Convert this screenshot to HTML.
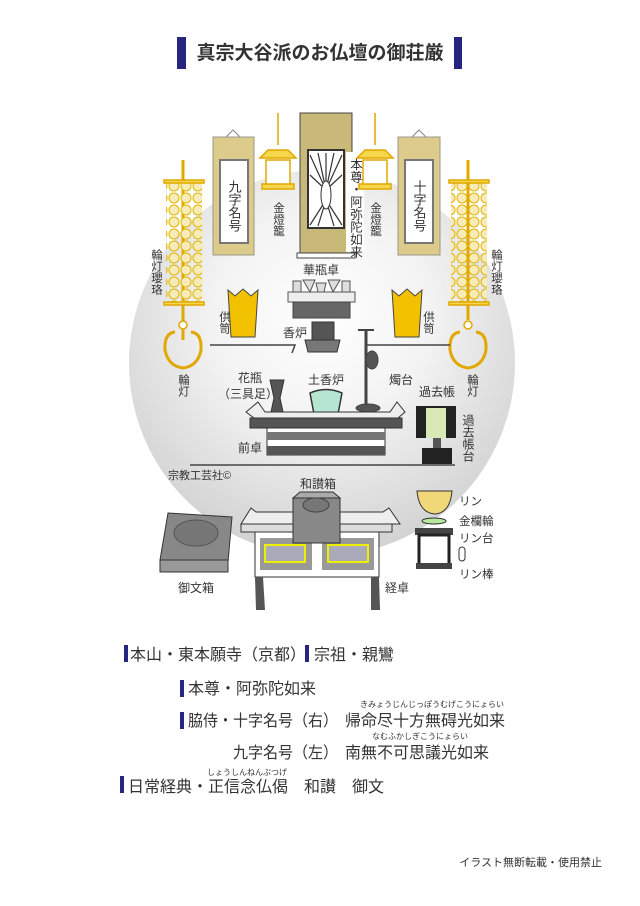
<!DOCTYPE html>
<html><head><meta charset="utf-8"><style>
body{margin:0;background:#fff}
svg{display:block}
text{font-family:"Liberation Sans","Noto Sans CJK JP",sans-serif;fill:#333}
.v{writing-mode:tb;glyph-orientation-vertical:0}
</style></head><body>
<svg width="640" height="906" viewBox="0 0 640 906" xmlns="http://www.w3.org/2000/svg">
<defs>
<radialGradient id="g" cx="0.5" cy="0.38" r="0.62">
<stop offset="0" stop-color="#fff"/><stop offset="0.45" stop-color="#f3f3f3"/><stop offset="1" stop-color="#d2d2d2"/>
</radialGradient>
<pattern id="yk" width="12" height="12" patternUnits="userSpaceOnUse">
<circle cx="6" cy="6" r="5" fill="#f7ecb8" stroke="#e2b400" stroke-width="1"/>
</pattern>
</defs>
<rect width="640" height="906" fill="#fff"/>
<circle cx="322" cy="363" r="193" fill="url(#g)"/>
<!-- title -->
<rect x="177" y="37" width="9" height="32" fill="#262680"/>
<rect x="454" y="37" width="8" height="32" fill="#262680"/>
<text x="320" y="59" font-size="19" text-anchor="middle" font-weight="bold" fill="#333">真宗大谷派のお仏壇の御荘厳</text>

<!-- center scroll -->
<rect x="300" y="113" width="52" height="140" fill="#c9b978" stroke="#444"/>
<rect x="297" y="253" width="58" height="5" fill="#fff" stroke="#444"/>
<rect x="308" y="150" width="36" height="78" fill="#fff" stroke="#333" stroke-width="2"/>
<g stroke="#333" stroke-width="1.2">
<line x1="326" y1="190" x2="310" y2="155"/><line x1="326" y1="190" x2="318" y2="153"/><line x1="326" y1="190" x2="326" y2="153"/><line x1="326" y1="190" x2="334" y2="153"/><line x1="326" y1="190" x2="342" y2="155"/>
<line x1="326" y1="190" x2="310" y2="175"/><line x1="326" y1="190" x2="342" y2="175"/><line x1="326" y1="200" x2="310" y2="225"/><line x1="326" y1="200" x2="342" y2="225"/><line x1="326" y1="200" x2="318" y2="226"/><line x1="326" y1="200" x2="334" y2="226"/>
</g>
<ellipse cx="326" cy="195" rx="5" ry="14" fill="#fff" stroke="#333"/>
<rect x="346" y="152" width="18" height="100" fill="#fff"/>
<text x="355" y="158" font-size="12.5" class="v">本尊・阿弥陀如来</text>

<!-- side scrolls -->
<g>
<path d="M226 137 L233 130 L240 137" fill="none" stroke="#888"/>
<rect x="213" y="137" width="41" height="118" fill="#dccb8a" stroke="#998"/>
<rect x="220" y="160" width="28" height="83" fill="#fff" stroke="#777" stroke-width="2"/>
<text x="234" y="180" font-size="13" class="v">九字名号</text>
<path d="M412 137 L419 130 L426 137" fill="none" stroke="#888"/>
<rect x="398" y="137" width="42" height="118" fill="#dccb8a" stroke="#998"/>
<rect x="405" y="160" width="28" height="83" fill="#fff" stroke="#777" stroke-width="2"/>
<text x="419" y="180" font-size="13" class="v">十字名号</text>
</g>

<!-- lanterns -->
<g fill="#f6d64a" stroke="#e0a800" stroke-width="1.5">
<line x1="278" y1="113" x2="278" y2="145"/>
<path d="M260 158 L296 158 L288 150 L268 150 Z"/><rect x="266" y="160" width="24" height="25" fill="#fff"/><rect x="262" y="184" width="32" height="5"/>
<line x1="375" y1="113" x2="375" y2="145"/>
<path d="M357 158 L393 158 L385 150 L365 150 Z"/><rect x="363" y="160" width="24" height="25" fill="#fff"/><rect x="359" y="184" width="32" height="5"/>
</g>
<text x="278" y="202" font-size="11.5" class="v">金燈籠</text>
<text x="375" y="202" font-size="11.5" class="v">金燈籠</text>

<!-- yoraku -->
<g stroke="#e0a800" stroke-width="1.5">
<line x1="183" y1="160" x2="183" y2="340" stroke-width="3"/>
<rect x="166" y="182" width="36" height="120" fill="url(#yk)" stroke="none"/>
<rect x="164" y="180" width="40" height="3" fill="#f6d64a"/>
<rect x="164" y="302" width="40" height="3" fill="#f6d64a"/>
<circle cx="183" cy="325" r="4" fill="#fff"/>
<path d="M175 332 Q164 333 165 350 Q168 366 183 368 Q198 366 201 350 Q202 333 191 332" fill="none" stroke-width="3"/>
<line x1="468" y1="160" x2="468" y2="320" stroke-width="3"/>
<rect x="451" y="182" width="36" height="120" fill="url(#yk)" stroke="none"/>
<rect x="449" y="180" width="40" height="3" fill="#f6d64a"/>
<rect x="449" y="302" width="40" height="3" fill="#f6d64a"/>
<circle cx="468" cy="325" r="4" fill="#fff"/>
<path d="M460 332 Q449 333 450 350 Q453 366 468 368 Q483 366 486 350 Q487 333 476 332" fill="none" stroke-width="3"/>
</g>
<text x="156" y="249" font-size="11.5" class="v">輪灯瓔珞</text>
<text x="496" y="249" font-size="11.5" class="v">輪灯瓔珞</text>
<text x="183" y="374" font-size="11.5" class="v">輪灯</text>
<text x="472" y="374" font-size="11.5" class="v">輪灯</text>

<!-- kebyo table -->
<text x="321" y="274" font-size="12" text-anchor="middle">華瓶卓</text>
<rect x="288" y="292" width="67" height="10" fill="#eee" stroke="#555"/>
<rect x="293" y="302" width="57" height="16" fill="#666" stroke="#444"/>
<g fill="#ddd" stroke="#555"><rect x="293" y="281" width="8" height="11"/><rect x="342" y="281" width="8" height="11"/><path d="M303 280 L315 280 L310 292 Z"/><path d="M328 280 L340 280 L333 292 Z"/><path d="M316 283 L326 283 L324 292 L318 292 Z"/></g>
<!-- kugu -->
<g fill="#f2c200" stroke="#444">
<path d="M228 290 L235 296 L243 289 L251 296 L258 290 L255 337 L231 337 Z"/>
<path d="M392 290 L399 296 L407 289 L415 296 L422 290 L419 337 L395 337 Z"/>
</g>
<text x="224" y="311" font-size="11.5" class="v">供笥</text>
<text x="428" y="311" font-size="11.5" class="v">供笥</text>
<!-- koro -->
<rect x="312" y="322" width="22" height="18" fill="#555" stroke="#333"/>
<path d="M305 340 L340 340 L337 352 L308 352 Z" fill="#777" stroke="#333"/>
<text x="295" y="337" font-size="12" text-anchor="middle">香炉</text>
<polyline points="210,345 295,345 292,353" fill="none" stroke="#444" stroke-width="1.5"/>
<line x1="365" y1="345" x2="450" y2="345" stroke="#444" stroke-width="1.5"/>

<!-- candle crane -->
<g stroke="#444" fill="#555"><line x1="366" y1="330" x2="366" y2="405" stroke-width="3"/><path d="M358 330 L374 330" stroke-width="2"/><ellipse cx="372" cy="360" rx="6" ry="9"/><ellipse cx="368" cy="408" rx="12" ry="4"/></g>
<text x="250" y="382" font-size="12" text-anchor="middle">花瓶</text>
<text x="248" y="398" font-size="12" text-anchor="middle">（三具足）</text>
<text x="326" y="384" font-size="12" text-anchor="middle">土香炉</text>
<text x="401" y="384" font-size="12" text-anchor="middle">燭台</text>
<text x="437" y="396" font-size="12" text-anchor="middle">過去帳</text>
<path d="M270 380 L284 380 L280 398 L283 412 L271 412 L274 398 Z" fill="#555" stroke="#333"/>
<path d="M310 393 Q326 386 342 393 L338 414 L314 414 Z" fill="#b6e6d2" stroke="#333" stroke-width="1.5"/>

<!-- front table -->
<path d="M246 412 L258 402 L265 412 L390 412 L397 402 L405 412 L398 418 L254 418 Z" fill="#eee" stroke="#333"/>
<rect x="250" y="418" width="152" height="10" fill="#555" stroke="#333"/>
<rect x="267" y="428" width="118" height="27" fill="#fff" stroke="#333"/>
<rect x="267" y="432" width="118" height="8" fill="#777"/>
<rect x="267" y="446" width="118" height="9" fill="#555"/>
<text x="250" y="452" font-size="12" text-anchor="middle">前卓</text>
<!-- kakocho -->
<rect x="416" y="406" width="40" height="32" fill="#222"/>
<rect x="426" y="408" width="20" height="30" fill="#d9e8b4"/>
<rect x="422" y="448" width="30" height="16" fill="#222"/>
<rect x="433" y="438" width="8" height="10" fill="#555"/>
<text x="468" y="414" font-size="12" class="v">過去帳台</text>
<line x1="190" y1="465" x2="455" y2="465" stroke="#444" stroke-width="1.5"/>
<text x="168" y="479" font-size="11">宗教工芸社©</text>

<!-- wasan box & kyo table -->
<text x="318" y="488" font-size="12" text-anchor="middle">和讃箱</text>
<path d="M241 524 L251 508 L256 512 L383 512 L389 508 L400 524 Z" fill="#eee" stroke="#333"/>
<rect x="241" y="524" width="151" height="8" fill="#ddd" stroke="#333"/>
<rect x="255" y="532" width="124" height="45" fill="#fff" stroke="#333"/>
<rect x="260" y="538" width="52" height="32" fill="#999"/>
<rect x="322" y="538" width="52" height="32" fill="#999"/>
<rect x="265" y="545" width="40" height="17" fill="#aab" stroke="#ee0" stroke-width="2"/>
<rect x="328" y="545" width="40" height="17" fill="#aab" stroke="#ee0" stroke-width="2"/>
<path d="M255 577 L263 577 L265 610 L256 610 Z" fill="#555"/>
<path d="M371 577 L379 577 L380 610 L371 610 Z" fill="#555"/>
<rect x="293" y="498" width="47" height="45" fill="#888" stroke="#333"/>
<path d="M293 498 L300 492 L333 492 L340 498 Z" fill="#aaa" stroke="#333"/>
<ellipse cx="316" cy="505" rx="13" ry="7" fill="#777" stroke="#444"/>
<!-- ofumi box -->
<path d="M168 513 L232 517 L228 562 L160 560 Z" fill="#888" stroke="#333"/>
<rect x="160" y="560" width="68" height="12" fill="#999" stroke="#333"/>
<ellipse cx="196" cy="533" rx="22" ry="13" fill="#777" stroke="#555"/>
<text x="196" y="592" font-size="12" text-anchor="middle">御文箱</text>
<text x="397" y="592" font-size="12" text-anchor="middle">経卓</text>
<!-- rin -->
<path d="M417 491 L452 491 Q450 513 435 514 Q419 513 417 491 Z" fill="#f0d878" stroke="#333"/>
<ellipse cx="434" cy="521" rx="12" ry="3" fill="#b8e8a0" stroke="#333"/>
<rect x="415" y="528" width="38" height="7" fill="#444"/>
<rect x="419" y="535" width="30" height="30" fill="#fff" stroke="#222" stroke-width="3"/>
<rect x="416" y="563" width="36" height="6" fill="#444"/>
<rect x="459" y="547" width="6" height="14" fill="#fff" stroke="#333" rx="3"/>
<text x="459" y="505" font-size="11.5">リン</text>
<text x="459" y="525" font-size="11.5">金欄輪</text>
<text x="459" y="542" font-size="11.5">リン台</text>
<text x="459" y="578" font-size="11.5">リン棒</text>

<!-- bottom text -->
<g font-size="16">
<rect x="124" y="645" width="4" height="17" fill="#262680"/>
<text x="130" y="660" font-size="16">本山・東本願寺（京都）</text>
<rect x="305" y="645" width="4" height="17" fill="#262680"/>
<text x="314" y="660" font-size="16">宗祖・親鸞</text>
<rect x="180" y="680" width="4" height="17" fill="#262680"/>
<text x="188" y="694" font-size="16">本尊・阿弥陀如来</text>
<rect x="180" y="712" width="4" height="17" fill="#262680"/>
<text x="188" y="726" font-size="16" textLength="150" lengthAdjust="spacingAndGlyphs">脇侍・十字名号（右）</text>
<text x="345" y="726" font-size="16">帰命尽十方無碍光如来</text>
<text x="360" y="707" font-size="8" fill="#666">きみょうじんじっぽうむげこうにょらい</text>
<text x="233" y="758" font-size="16" textLength="105" lengthAdjust="spacingAndGlyphs">九字名号（左）</text>
<text x="345" y="758" font-size="16">南無不可思議光如来</text>
<text x="372" y="739" font-size="8" fill="#666">なむふかしぎこうにょらい</text>
<rect x="120" y="776" width="4" height="17" fill="#262680"/>
<text x="128" y="792" font-size="16">日常経典・正信念仏偈　和讃　御文</text>
<text x="207" y="775" font-size="8" fill="#666">しょうしんねんぶつげ</text>
</g>
<text x="602" y="866" font-size="11" text-anchor="end">イラスト無断転載・使用禁止</text>
</svg>
</body></html>
